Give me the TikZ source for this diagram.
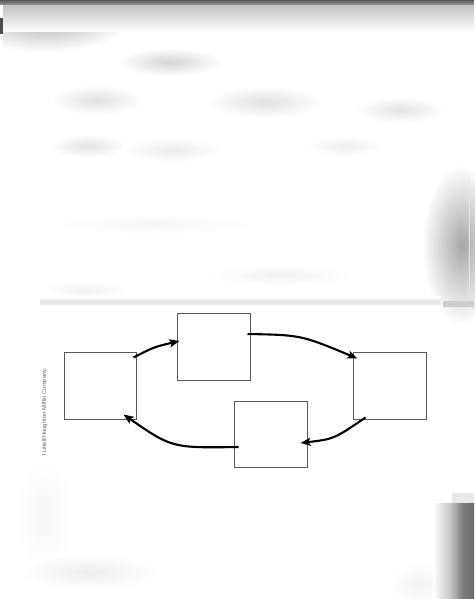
\documentclass[tikz,border=0pt]{standalone}
\usepackage{fontspec}
\setmainfont{Liberation Sans}
\usetikzlibrary{arrows.meta,calc,fadings}
\tikzfading[name=softfade,inner color=transparent!0,outer color=transparent!100]
\newcommand\myblob[5]{%
  \fill[black,opacity=#5,path fading=softfade] (#1,#2) ellipse [x radius=#3,y radius=#4];}
\begin{document}
\begin{tikzpicture}[x=1pt,y=-1pt,
  box/.style={draw=black!65,line width=1pt,fill=white,minimum width=72pt,minimum height=66pt,inner sep=0pt},
  flow/.style={line width=2.1pt,-{Stealth[length=10pt,width=8pt,inset=2pt]}},
  credit/.style={font=\fontsize{5.8}{6.5}\selectfont,text=black!60,rotate=90,inner sep=0pt}]
\useasboundingbox (0,0) rectangle (474,599);
\fill[white] (0,0) rectangle (474,599);
% blurred scan background
\myblob{45}{20}{85}{32}{0.3}
\shade[top color=black!24,bottom color=white] (0,5) rectangle (474,32);
\shade[top color=black!65,bottom color=black!40] (0,0) rectangle (474,5);
\fill[white] (0,5) rectangle (2.5,60);
\fill[black!70] (0,18) rectangle (2.5,34);
\myblob{170}{62}{52}{14}{0.17}
\myblob{97}{100}{46}{15}{0.12}
\myblob{265}{102}{58}{16}{0.12}
\myblob{400}{110}{45}{13}{0.11}
\myblob{88}{146}{38}{12}{0.11}
\myblob{172}{150}{50}{12}{0.08}
\myblob{345}{146}{38}{10}{0.07}
\myblob{155}{224}{100}{10}{0.04}
\myblob{280}{275}{75}{10}{0.05}
\myblob{85}{290}{42}{10}{0.05}
\myblob{462}{245}{40}{80}{0.35}
\fill[black!10] (469,180) rectangle (470,305);
\shade[top color=white,bottom color=black!12] (40,296) rectangle (440,302);
\shade[top color=black!12,bottom color=white] (40,302) rectangle (440,306);
\fill[black!20] (443,301) rectangle (474,307);
\myblob{90}{572}{70}{18}{0.07}
\myblob{45}{515}{30}{55}{0.035}
\myblob{420}{585}{32}{22}{0.05}
\shade[left color=white,right color=black!22] (433,503) rectangle (450,599);
\shade[left color=black!22,right color=black!50] (450,503) rectangle (462,599);
\shade[left color=black!50,right color=black!58] (462,503) rectangle (474,599);
\fill[black!9] (452,493) rectangle (474,503);
% diagram
\node[box,minimum width=72pt,minimum height=67pt] (A) at (100,385.5) {};
\node[box,minimum width=73pt,minimum height=67pt] (B) at (213.5,346.5) {};
\node[box,minimum width=73pt,minimum height=67pt] (C) at (389.5,385.5) {};
\node[box,minimum width=73pt,minimum height=66pt] (D) at (270.5,434) {};
\draw[flow] ($(A.north east)+(-3,6)$) .. controls (154,347) .. ($(B.west)+(3,-5.5)$);
\draw[flow] ($(B.east)+(-3,-12.5)$) .. controls (301,335) .. ($(C.north west)+(5,7)$);
\draw[flow] ($(C.south west)+(13,-2)$) .. controls (334,439) .. ($(D.east)+(-7,9)$);
\draw[flow] ($(D.west)+(5,13)$) .. controls (172,448) .. ($(A.south east)+(-13,-5)$);
\node[credit] (cr) at (44.5,412) {l Littell/Houghton Mifflin Company.};
\end{tikzpicture}
\end{document}
